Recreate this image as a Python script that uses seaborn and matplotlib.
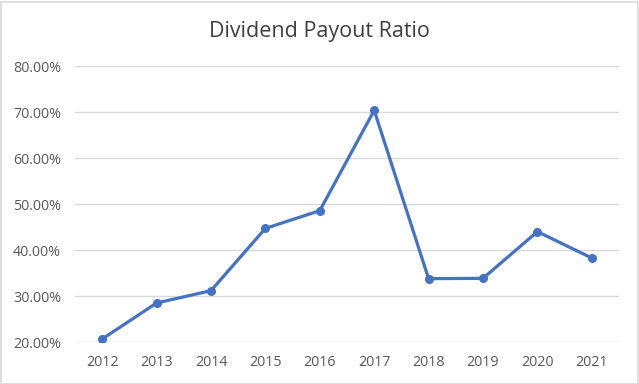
import numpy as np
import pandas as pd
import seaborn as sns
import matplotlib.pyplot as plt
from matplotlib.patches import Rectangle
from matplotlib.ticker import PercentFormatter

# Datos
years = [2012, 2013, 2014, 2015, 2016, 2017, 2018, 2019, 2020, 2021]
payout = [0.2065, 0.2848, 0.3116, 0.4470, 0.4855, 0.7036, 0.3377, 0.3384, 0.4399, 0.3826]
y_ticks = [0.2, 0.3, 0.4, 0.5, 0.6, 0.7, 0.8]

df = pd.DataFrame({"year": years, "payout": payout})

sns.set_theme(style="white")
plt.rcParams["font.family"] = ["Open Sans", "DejaVu Sans"]

fig = plt.figure(figsize=(6.39, 3.84), dpi=100)
ax = fig.add_axes([75 / 639, 1 - 342 / 384, 544 / 639, 276 / 384])

sns.lineplot(data=df, x="year", y="payout", ax=ax, color="#4472C4",
             linewidth=2.3, marker="o", markersize=6.5, markeredgewidth=0,
             zorder=3)

ax.set_xlim(years[0] - 0.5, years[-1] + 0.5)
ax.set_ylim(0.2, 0.8)
ax.set_xticks(years)
ax.set_xticklabels([str(y) for y in years])
ax.set_yticks(y_ticks)
ax.yaxis.set_major_formatter(PercentFormatter(1.0, decimals=2))
ax.grid(axis="y", color="#D9D9D9", linewidth=1)
ax.set_axisbelow(True)
for s in ax.spines.values():
    s.set_visible(False)
ax.tick_params(axis="both", length=0, labelsize=10.3, colors="#595959")
ax.tick_params(axis="y", pad=10)
ax.tick_params(axis="x", pad=9)
ax.set_xlabel("")
ax.set_ylabel("")

fig.text(0.5, 1 - 31 / 384, "Dividend Payout Ratio", ha="center", va="center",
         fontsize=15.5, color="#404040")

# Borde del area del grafico
fig.patches.append(Rectangle((0.5 / 639, 0.5 / 384), 637 / 639, 382 / 384,
                             transform=fig.transFigure, fill=False,
                             edgecolor="#D9D9D9", linewidth=1.2))

fig.savefig("out.png", dpi=100, facecolor="white")
